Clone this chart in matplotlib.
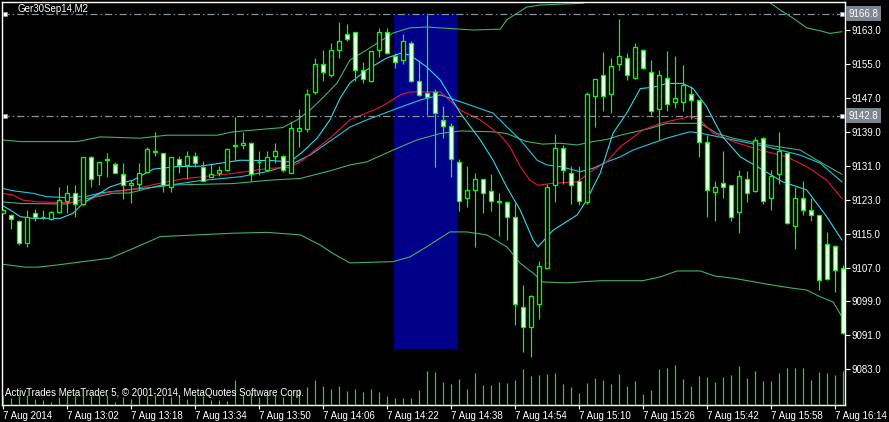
import numpy as np
import pandas as pd
import matplotlib
matplotlib.use('Agg')
import matplotlib.pyplot as plt
from matplotlib.patches import Rectangle

plt.rcParams['font.family'] = ['Liberation Sans', 'DejaVu Sans']

symbol = 'Ger30Sep14,M2'
copyright_text = 'ActivTrades MetaTrader 5, \u00a9 2001-2014, MetaQuotes Software Corp.'

# M2 bars of 7 Aug 2014, first one (12:46) half cut by the left edge
bar_times = pd.date_range('2014-08-07 12:46', periods=106, freq='2min')
bars = np.arange(-1, 105)

opens = [9119.9, 9119.4, 9118.0, 9112.8, 9119.9, 9118.8, 9118.4, 9120.1, 9122.6, 9124.5,
         9122.0, 9133.0, 9128.9, 9132.4, 9131.4, 9129.0, 9126.5, 9126.8, 9129.5, 9134.3,
         9133.9, 9126.0, 9132.5, 9131.1, 9133.4, 9130.8, 9128.4, 9129.2, 9130.1, 9135.7,
         9135.8, 9136.4, 9131.8, 9130.0, 9133.4, 9133.4, 9129.3, 9139.3, 9139.6, 9148.3,
         9154.9, 9152.3, 9158.4, 9162.0, 9162.5, 9153.5, 9150.9, 9158.4, 9162.5, 9156.8,
         9155.9, 9159.9, 9150.9, 9148.1, 9148.3, 9141.9, 9140.3, 9131.8, 9123.3, 9125.4,
         9127.8, 9125.0, 9122.8, 9122.4, 9118.8, 9097.8, 9092.9, 9098.3, 9106.8, 9126.4,
         9135.3, 9129.4, 9127.3, 9122.4, 9147.4, 9152.3, 9147.8, 9154.9, 9156.3, 9151.8,
         9158.4, 9153.0, 9144.3, 9151.8, 9146.0, 9146.0, 9147.8, 9146.4, 9136.5, 9124.9,
         9126.9, 9126.4, 9120.0, 9127.8, 9125.0, 9137.5, 9123.3, 9129.0, 9133.9, 9116.9,
         9123.3, 9120.5, 9119.3, 9112.5, 9112.0, 9106.8]
highs = [9120.7, 9119.6, 9118.3, 9120.5, 9120.7, 9120.5, 9120.3, 9125.9, 9126.4, 9126.4,
         9133.1, 9133.2, 9132.0, 9134.0, 9131.9, 9131.6, 9127.6, 9131.6, 9135.5, 9138.9,
         9134.0, 9133.1, 9133.4, 9134.4, 9134.2, 9132.2, 9131.6, 9130.9, 9135.2, 9142.6,
         9139.0, 9136.6, 9134.4, 9134.4, 9136.4, 9133.6, 9141.5, 9144.3, 9149.0, 9156.3,
         9158.4, 9159.9, 9164.8, 9164.3, 9162.6, 9155.4, 9158.1, 9163.4, 9163.4, 9157.5,
         9162.0, 9160.3, 9155.9, 9166.6, 9149.0, 9145.0, 9141.0, 9132.5, 9130.9, 9129.4,
         9127.9, 9129.0, 9124.5, 9122.8, 9122.2, 9102.9, 9100.6, 9108.5, 9126.8, 9138.4,
         9135.8, 9130.9, 9130.9, 9148.3, 9151.5, 9157.7, 9156.3, 9165.6, 9157.5, 9159.9,
         9158.6, 9155.9, 9153.5, 9158.0, 9156.8, 9154.7, 9149.7, 9146.5, 9138.2, 9127.3,
         9134.4, 9126.5, 9130.1, 9129.7, 9137.7, 9137.8, 9129.9, 9138.9, 9134.0, 9126.1,
         9127.3, 9123.3, 9119.5, 9115.3, 9112.3, 9107.5]
lows = [9119.7, 9116.1, 9112.3, 9111.9, 9117.9, 9118.4, 9118.2, 9119.9, 9119.9, 9118.8,
        9121.8, 9125.9, 9126.4, 9128.4, 9129.2, 9123.2, 9122.3, 9125.3, 9129.3, 9133.4,
        9124.8, 9124.8, 9129.3, 9127.9, 9130.8, 9127.3, 9128.3, 9128.7, 9129.7, 9132.2,
        9135.0, 9127.3, 9128.9, 9129.8, 9131.7, 9129.5, 9129.3, 9135.5, 9139.0, 9147.8,
        9150.9, 9152.0, 9156.3, 9160.5, 9150.9, 9150.4, 9150.8, 9156.6, 9157.3, 9154.0,
        9154.9, 9150.8, 9147.4, 9142.9, 9130.8, 9137.5, 9128.4, 9120.4, 9121.2, 9111.9,
        9119.9, 9120.4, 9114.4, 9113.6, 9093.4, 9087.0, 9085.8, 9094.8, 9106.7, 9122.4,
        9126.8, 9121.9, 9121.7, 9121.9, 9140.2, 9143.8, 9143.4, 9153.5, 9151.1, 9151.5,
        9153.8, 9142.9, 9137.0, 9144.0, 9144.5, 9143.8, 9142.0, 9133.1, 9118.8, 9117.9,
        9123.3, 9117.9, 9115.2, 9122.4, 9124.8, 9121.9, 9120.5, 9126.8, 9117.3, 9111.3,
        9119.3, 9117.9, 9101.8, 9104.0, 9101.3, 9091.3]
closes = [9120.5, 9118.5, 9112.8, 9118.8, 9118.8, 9118.9, 9120.1, 9122.9, 9124.5, 9122.0,
          9133.0, 9127.8, 9131.9, 9132.6, 9129.3, 9126.4, 9126.9, 9129.3, 9134.9, 9134.5,
          9126.4, 9133.0, 9131.2, 9133.4, 9131.7, 9127.3, 9129.0, 9130.0, 9134.9, 9135.9,
          9136.4, 9129.0, 9132.0, 9133.0, 9134.4, 9130.0, 9139.8, 9139.8, 9147.8, 9154.9,
          9153.0, 9158.4, 9160.3, 9160.8, 9153.5, 9151.4, 9158.0, 9162.5, 9157.5, 9155.4,
          9160.3, 9150.9, 9147.6, 9147.3, 9143.4, 9140.3, 9132.5, 9122.8, 9125.4, 9127.8,
          9124.5, 9122.8, 9122.4, 9118.8, 9098.4, 9092.9, 9100.4, 9107.3, 9125.9, 9135.3,
          9129.9, 9126.4, 9122.8, 9147.8, 9151.4, 9147.4, 9154.4, 9156.8, 9152.3, 9158.9,
          9154.0, 9143.8, 9152.3, 9145.5, 9146.9, 9150.0, 9146.4, 9136.5, 9125.4, 9125.9,
          9125.9, 9118.8, 9128.5, 9124.5, 9137.0, 9122.8, 9128.5, 9134.4, 9117.4, 9123.3,
          9120.5, 9119.3, 9104.0, 9104.4, 9106.4, 9091.5]
volumes = [60, 40, 54, 60, 36, 30, 18, 50, 74, 54, 60, 54, 60, 60, 18, 50, 34, 60, 54, 60,
           46, 46, 60, 34, 60, 54, 30, 30, 24, 150, 60, 74, 50, 60, 60, 50, 60, 98, 110, 150,
           114, 96, 114, 84, 96, 78, 96, 78, 54, 42, 42, 42, 90, 204, 198, 138, 126, 156, 96, 192,
           120, 120, 138, 132, 150, 216, 174, 180, 186, 192, 126, 108, 72, 132, 162, 150, 126, 186, 114, 144,
           66, 90, 216, 222, 240, 156, 114, 174, 168, 138, 168, 180, 234, 162, 204, 144, 144, 192, 222, 222,
           222, 150, 198, 192, 180, 204]

# indicator readings: (bar, price)
bb_upper_bars = [-1.1, 1.2, 8.3, 11.2, 16.2, 19.5, 25.8, 27.8, 34.0, 35.8, 37.4, 39.0, 40.8, 42.4,
                 44.5, 47.8, 49.9, 52.0, 57.8, 61.2, 62.0, 64.5, 66.2, 71.5, 73.0, 80.0, 87.0, 92.0,
                 94.7, 96.2, 97.8, 99.5, 101.2, 102.4, 103.9]
bb_upper = [9137.1, 9136.7, 9136.7, 9137.8, 9137.5, 9138.2, 9138.2, 9139.0, 9140.0, 9141.8, 9144.1,
            9147.0, 9150.5, 9155.9, 9158.3, 9162.3, 9163.5, 9163.7, 9163.0, 9163.2, 9165.4, 9168.4,
            9168.9, 9169.3, 9170.1, 9173.0, 9175.5, 9172.0, 9169.7, 9167.7, 9165.8, 9163.5, 9162.8,
            9162.2, 9162.6]
bb_mid_bars = [-1.1, 1.2, 7.0, 9.0, 10.8, 12.8, 14.9, 18.7, 27.8, 32.4, 36.2, 40.3, 42.4, 44.5, 47.8,
               50.8, 53.7, 56.2, 60.3, 62.0, 64.5, 66.5, 68.7, 70.8, 72.8, 74.5, 76.2, 79.9, 82.0,
               86.2, 88.3, 90.3, 94.5, 98.7, 100.8, 103.9]
bb_mid = [9122.5, 9122.1, 9122.0, 9123.1, 9123.7, 9124.5, 9124.6, 9126.4, 9126.8, 9127.6, 9128.0,
          9130.0, 9131.2, 9131.9, 9134.7, 9137.1, 9138.6, 9139.2, 9139.0, 9138.6, 9136.7, 9136.1,
          9136.3, 9135.9, 9136.7, 9137.2, 9138.2, 9139.8, 9141.0, 9141.0, 9138.6, 9137.5, 9135.9,
          9134.7, 9132.3, 9129.0]
bb_lower_bars = [-1.1, 1.8, 3.3, 5.8, 9.0, 12.4, 15.3, 18.7, 27.8, 32.0, 36.2, 38.7, 40.3, 42.4,
                 47.8, 49.9, 52.0, 54.9, 57.0, 59.5, 62.0, 63.7, 65.3, 66.5, 69.5, 73.7, 79.0, 81.2,
                 83.3, 86.2, 88.0, 90.3, 94.5, 97.5, 99.5, 101.2, 102.8, 103.9]
bb_lower = [9107.8, 9107.1, 9107.1, 9107.6, 9108.4, 9109.2, 9111.5, 9114.3, 9115.1, 9115.3, 9114.7,
            9112.3, 9110.3, 9108.1, 9108.4, 9109.5, 9111.9, 9115.4, 9115.4, 9114.7, 9111.9, 9108.0,
            9105.7, 9103.6, 9103.4, 9103.9, 9103.9, 9104.8, 9106.2, 9106.2, 9105.0, 9104.5, 9103.1,
            9102.2, 9101.7, 9100.1, 9098.9, 9095.4]
ma_red_bars = [-1.1, 0.3, 1.5, 3.3, 7.0, 9.5, 11.2, 12.8, 14.9, 18.7, 21.5, 27.8, 32.4, 34.9, 36.5,
               38.3, 39.9, 42.4, 46.2, 48.7, 49.9, 53.7, 56.2, 58.7, 61.2, 62.4, 63.7, 64.9, 65.9,
               67.4, 70.8, 72.8, 74.5, 76.2, 79.0, 81.2, 84.9, 86.2, 87.8, 90.3, 93.7, 97.0, 99.5,
               102.0, 103.9]
ma_red = [9124.5, 9124.1, 9122.9, 9122.5, 9122.3, 9122.5, 9124.3, 9124.9, 9125.3, 9126.9, 9127.9,
          9129.2, 9130.4, 9130.6, 9132.3, 9135.1, 9137.5, 9141.8, 9144.8, 9147.7, 9148.4, 9148.4,
          9144.1, 9141.8, 9138.2, 9135.5, 9130.8, 9127.6, 9126.4, 9126.8, 9127.2, 9130.0, 9131.9,
          9135.5, 9139.4, 9141.0, 9142.6, 9141.8, 9138.7, 9136.7, 9134.7, 9133.1, 9130.8, 9127.6,
          9123.3]
ma_slow_bars = [-1.1, 0.3, 2.8, 4.5, 7.0, 9.5, 11.2, 14.9, 18.3, 23.7, 28.7, 32.0, 34.9, 37.4, 40.3,
                42.4, 44.5, 48.7, 51.2, 53.7, 56.2, 60.3, 62.0, 63.7, 65.8, 67.0, 68.7, 71.2, 72.8,
                74.5, 76.2, 77.8, 82.0, 84.9, 86.2, 90.3, 94.5, 98.7, 101.2, 103.9]
ma_slow = [9125.7, 9125.1, 9124.5, 9123.7, 9123.5, 9123.8, 9124.6, 9125.4, 9126.0, 9127.5, 9128.4,
           9129.6, 9131.2, 9133.5, 9137.3, 9140.1, 9141.8, 9144.8, 9146.5, 9147.7, 9146.1, 9143.4,
           9140.2, 9137.1, 9132.3, 9131.2, 9130.8, 9129.6, 9130.4, 9131.9, 9133.1, 9134.7, 9137.5,
           9139.0, 9138.7, 9137.1, 9135.5, 9133.5, 9131.6, 9127.2]
ma_fast_bars = [-1.1, 0.0, 1.2, 2.8, 6.2, 7.8, 9.0, 10.3, 11.2, 12.4, 14.0, 15.3, 17.8, 20.8, 23.7,
                28.7, 32.8, 34.9, 36.5, 38.3, 39.9, 41.2, 42.4, 44.5, 47.0, 48.7, 49.9, 52.0, 53.7,
                56.2, 58.7, 60.3, 62.0, 63.7, 65.3, 65.9, 67.8, 70.8, 72.0, 73.7, 75.3, 77.0, 78.7,
                80.3, 82.0, 84.0, 85.3, 87.0, 88.3, 89.0, 91.2, 93.3, 96.5, 99.5, 102.0, 103.9]
ma_fast = [9121.7, 9120.5, 9119.0, 9118.6, 9118.6, 9119.8, 9122.1, 9123.7, 9124.6, 9126.0, 9127.0,
           9127.6, 9130.2, 9130.8, 9130.9, 9132.3, 9132.2, 9131.9, 9134.3, 9137.5, 9141.8, 9147.0,
           9150.5, 9153.6, 9156.4, 9157.5, 9157.1, 9154.3, 9151.2, 9143.4, 9137.1, 9132.3, 9126.0,
           9120.5, 9113.5, 9111.9, 9115.8, 9119.4, 9122.9, 9129.3, 9138.7, 9143.4, 9149.2, 9149.5,
           9150.4, 9150.4, 9149.2, 9144.9, 9140.2, 9137.8, 9133.1, 9130.8, 9127.2, 9125.3, 9119.0,
           9113.5]

price_ticks = [9163.0, 9155.0, 9147.0, 9139.0, 9131.0, 9123.0, 9115.0, 9107.0, 9099.0, 9091.0, 9083.0]
level_lines = [9166.8, 9142.8]
zone_bars = (47.9, 55.8)
zone_prices = (9087.8, 9166.8)

LIME = '#00ff00'
W, H = 889, 422
PX = 0.72  # one pixel in points

fig = plt.figure(figsize=(W / 100, H / 100), dpi=100, facecolor='black')
rect = [2 / W, (H - 405) / H, 843 / W, 403 / H]
ax = fig.add_axes(rect)
ax.set_facecolor('black')
ax.set_xlim(-1.09, 104.29)
ax.set_ylim(9074.6, 9169.6)

# highlighted zone
ax.add_patch(Rectangle((zone_bars[0], zone_prices[0]), zone_bars[1] - zone_bars[0],
                       zone_prices[1] - zone_prices[0], fc='#000088', ec='none', zorder=1))

# bands and moving averages
ax.plot(bb_upper_bars, bb_upper, color='#3cb371', lw=1.1 * PX, zorder=2)
ax.plot(bb_mid_bars, bb_mid, color='#3cb371', lw=1.1 * PX, zorder=2)
ax.plot(bb_lower_bars, bb_lower, color='#3cb371', lw=1.1 * PX, zorder=2)
ax.plot(ma_slow_bars, ma_slow, color='#1fc8e0', lw=1.1 * PX, zorder=2)
ax.plot(ma_red_bars, ma_red, color='#e8173c', lw=1.1 * PX, zorder=2)
ax.plot(ma_fast_bars, ma_fast, color='#30dcf0', lw=1.1 * PX, zorder=2)

# horizontal levels with their anchor squares
ytr = ax.get_yaxis_transform()
for lvl in level_lines:
    ax.axhline(lvl, color='#8a949e', lw=1.2 * PX, ls=(0, (6, 2.5, 1.2, 2.5)), zorder=2)
    ax.plot([0.004, 0.9965], [lvl, lvl], 's', ms=3.4, mfc='white', mec='#8a949e',
            mew=0.6, transform=ytr, clip_on=False, zorder=6)
    ax.text(1.0045, lvl, '%.1f' % lvl, transform=ytr, ha='left', va='center',
            color='white', fontsize=7, clip_on=False, zorder=7,
            bbox=dict(boxstyle='square,pad=0.25', fc='#7d8690', ec='none'))

# candles
ax.vlines(bars, lows, highs, color=LIME, lw=1.2 * PX, zorder=3)
for xi, o, c in zip(bars, opens, closes):
    fc = 'white' if c < o else 'black'
    ax.add_patch(Rectangle((xi - 0.27, min(o, c)), 0.54, abs(c - o),
                           fc=fc, ec=LIME, lw=1.3 * PX, zorder=4))

# axes styling
for sp in ax.spines.values():
    sp.set_color('white')
    sp.set_linewidth(1.0)
ax.yaxis.tick_right()
ax.set_yticks(price_ticks)
ax.set_yticklabels(['%.1f' % p for p in price_ticks])
ax.tick_params(axis='y', colors='white', length=3.6, width=0.8, pad=1, labelsize=7)

tick_idx = list(range(0, len(bar_times), 8))
ax.set_xticks(bars[tick_idx])
xlabels = []
for i in tick_idx:
    t = bar_times[i]
    xlabels.append('7 Aug 2014' if i == 0 else '7 Aug ' + t.strftime('%H:%M'))
ax.set_xticklabels(xlabels)
ax.tick_params(axis='x', colors='white', length=3, width=0.8, pad=1, labelsize=7)
for lbl in ax.get_xticklabels():
    lbl.set_horizontalalignment('left')

# tick volumes along the bottom
axv = fig.add_axes(rect, sharex=ax)
axv.patch.set_visible(False)
axv.axis('off')
axv.set_ylim(0, 403 * 6)
axv.vlines(bars, 0, volumes, color='#2ed02e', lw=1.2 * PX)

fig.text(18 / W, 1 - 9.5 / H, symbol, color='white', fontsize=7, va='center', ha='left')
fig.text(5 / W, 1 - 393 / H, copyright_text, color='white', fontsize=7, va='center', ha='left',
         zorder=10)

fig.savefig('out.png', dpi=100, facecolor='black')
